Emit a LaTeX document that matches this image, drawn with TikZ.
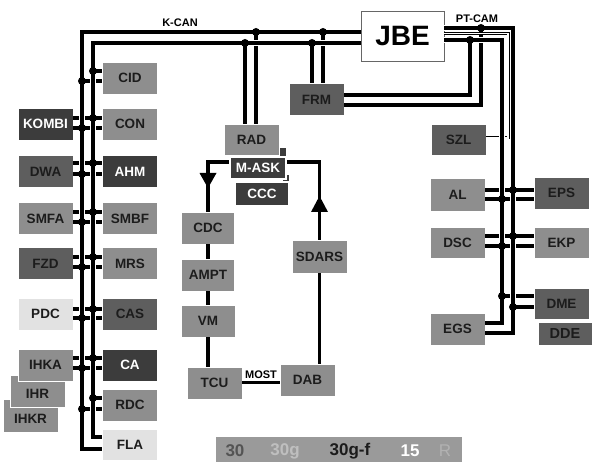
\documentclass[tikz,border=0pt]{standalone}
\usepackage{fontspec}
\setmainfont{Liberation Sans}
\definecolor{gmed}{HTML}{8E8E8E}
\definecolor{gdark}{HTML}{5E5E5E}
\definecolor{gvdark}{HTML}{3C3C3C}
\definecolor{glight}{HTML}{E2E2E2}
\definecolor{txt}{HTML}{1C1C1C}
\definecolor{gleg}{HTML}{9A9A9A}
\begin{document}
\begin{tikzpicture}[x=1pt,y=-1pt,
  mod/.style={rectangle, draw=white, line width=0.8pt, minimum width=55pt, minimum height=32pt, inner sep=0pt, font=\fontsize{13.5}{14}\selectfont\bfseries, text=txt},
  med/.style={mod, fill=gmed},
  drk/.style={mod, fill=gdark},
  vdk/.style={mod, fill=gvdark, text=white},
  lgt/.style={mod, fill=glight},
  card/.style={rectangle, draw=white, line width=0.8pt, inner sep=0pt},
  bus/.style={line width=3.8pt, black, preaction={draw=white, line width=6.5pt}},
  drop/.style={line width=3.8pt, black},
  conn/.style={line width=3.2pt, black},
  mline/.style={line width=3.6pt, black},
  thin/.style={line width=0.8pt, black, double=white, double distance=1.4pt},
  lbl/.style={font=\fontsize{11}{12}\selectfont\bfseries, inner sep=1pt, text=black},
  lg/.style={font=\fontsize{17}{18}\selectfont\bfseries, inner sep=0pt},
]
\useasboundingbox (0,0) rectangle (592,462);

% ---------- nodes ----------
\node[draw=black!60, fill=white, line width=0.8pt, minimum width=83pt, minimum height=50pt, inner sep=0pt, font=\fontsize{28}{30}\selectfont\bfseries] (jbe) at (402.5,36) {JBE};

\node[med] (cid) at (130,78) {CID};
\node[vdk] (kombi) at (45.5,124) {KOMBI};
\node[med] (con) at (130,124) {CON};
\node[drk] (dwa) at (45.5,171.5) {DWA};
\node[vdk] (ahm) at (130,171.5) {AHM};
\node[med] (smfa) at (45.5,218.5) {SMFA};
\node[med] (smbf) at (130,218.5) {SMBF};
\node[drk] (fzd) at (45.5,263.5) {FZD};
\node[med] (mrs) at (130,263.5) {MRS};
\node[lgt] (pdc) at (45.5,314) {PDC};
\node[drk] (cas) at (130,314) {CAS};
\node[med, minimum height=33pt] (ihkr) at (30.5,415.5) {};
\node[med] (ihr) at (37.5,391) {};
\node[med] (ihka) at (45.5,365) {IHKA};
\node at (37.5,394) [font=\fontsize{13.5}{14}\selectfont\bfseries, text=txt] (ihrt) {IHR};
\node at (30.5,419) [font=\fontsize{13.5}{14}\selectfont\bfseries, text=txt] (ihkrt) {IHKR};
\node[vdk] (ca) at (130,365) {CA};
\node[med] (rdc) at (130,405) {RDC};
\node[lgt, minimum height=31pt] (fla) at (130,444.5) {FLA};

\node[card, fill=gvdark, minimum width=8pt, minimum height=18pt] (maskcard) at (282.5,156) {};
\node[med, minimum height=31pt] (rad) at (251.5,139.5) {RAD};
\node[card, fill=gvdark, minimum width=7pt, minimum height=20pt] (ccccard) at (285.5,184) {};
\node[vdk, minimum width=56pt, minimum height=22pt, line width=1.2pt] (mask) at (258,168) {M-ASK};
\node[vdk, minimum width=54pt, minimum height=24pt, line width=1.2pt] (ccc) at (262,194) {CCC};

\node[drk] (frm) at (316.5,99.5) {FRM};
\node[drk, minimum height=31pt] (szl) at (458.5,139.5) {SZL};
\node[med, minimum height=33pt] (al) at (457.5,194.5) {AL};
\node[drk] (eps) at (561.5,193) {EPS};
\node[med, minimum height=31pt] (dsc) at (457.5,242.5) {DSC};
\node[med, minimum height=31pt] (ekp) at (561.5,242.5) {EKP};
\node[drk, minimum height=31pt] (dme) at (561.5,303.5) {DME};
\node[drk, minimum width=54pt, minimum height=23pt, font=\fontsize{14.5}{15}\selectfont\bfseries] (dde) at (565,333.5) {DDE};
\node[med] (egs) at (457.5,329) {EGS};

\node[med, minimum width=53pt] (cdc) at (208,228) {CDC};
\node[med, minimum width=53pt] (ampt) at (208,275) {AMPT};
\node[med, minimum width=54pt] (vm) at (208,321) {VM};
\node[med] (tcu) at (214.5,383) {TCU};
\node[med] (dab) at (307.5,380) {DAB};
\node[med, minimum height=33pt] (sdars) at (319.5,256.5) {SDARS};

\node[lbl] (kcan) at (180,23) {K-CAN};
\node[lbl] (ptcam) at (477,19) {PT-CAM};
\node[lbl] (most) at (261,375) {MOST};

% ---------- legend ----------
\node[rectangle, fill=gleg, minimum width=246pt, minimum height=28pt, inner sep=0pt, anchor=north west] (legend) at (216,437) {};
\node[lg, text=black!67] (l30) at (235,451) {30};
\node[lg, text=black!25] (l30g) at (285,451) {30g};
\node[lg, text=txt] (l30gf) at (350,451) {30g-f};
\node[lg, text=white] (l15) at (410,451) {15};
\node[lg, text=black!30, font=\fontsize{17}{18}\selectfont\mdseries] (lr) at (445,451) {R};

% ---------- drops and connections (under the buses) ----------
\draw[drop] (245,43) -- (rad.north -| 245,43);
\draw[drop] (256,32) -- (rad.north -| 256,32);
\draw[drop] (312,43) -- (frm.north -| 312,43);
\draw[drop] (323,32) -- (frm.north -| 323,32);
\draw[drop] (frm.east |- 0,95) -| (470,40);
\draw[drop] (frm.east |- 0,105) -| (481,28);
\draw[thin] (jbe.east |- 0,33.5) -| (508,138) -- (szl.east |- 0,138);

\draw[conn] (93,71) -- (cid.west |- 0,71);
\draw[conn] (82,81) -- (cid.west |- 0,81);
\draw[conn] (kombi.east |- 0,118) -- (con.west |- 0,118);
\draw[conn] (kombi.east |- 0,128) -- (con.west |- 0,128);
\draw[conn] (dwa.east |- 0,163) -- (ahm.west |- 0,163);
\draw[conn] (dwa.east |- 0,174) -- (ahm.west |- 0,174);
\draw[conn] (smfa.east |- 0,212) -- (smbf.west |- 0,212);
\draw[conn] (smfa.east |- 0,222) -- (smbf.west |- 0,222);
\draw[conn] (fzd.east |- 0,257) -- (mrs.west |- 0,257);
\draw[conn] (fzd.east |- 0,267) -- (mrs.west |- 0,267);
\draw[conn] (pdc.east |- 0,309) -- (cas.west |- 0,309);
\draw[conn] (pdc.east |- 0,318) -- (cas.west |- 0,318);
\draw[conn] (ihka.east |- 0,358) -- (ca.west |- 0,358);
\draw[conn] (ihka.east |- 0,368) -- (ca.west |- 0,368);
\draw[conn] (93,398) -- (rdc.west |- 0,398);
\draw[conn] (82,409) -- (rdc.west |- 0,409);

\draw[conn] (al.east |- 0,190) -- (eps.west |- 0,190);
\draw[conn] (al.east |- 0,199) -- (eps.west |- 0,199);
\draw[conn] (dsc.east |- 0,236) -- (ekp.west |- 0,236);
\draw[conn] (dsc.east |- 0,246) -- (ekp.west |- 0,246);
\draw[conn] (502,296) -- (dme.west |- 0,296);
\draw[conn] (513,307) -- (dme.west |- 0,307);

% ---------- buses ----------
\draw[bus] (jbe.west |- 0,32) -| (82,449) -- (fla.west |- 0,449);
\draw[bus] (jbe.west |- 0,43) -| (93,437) -- (fla.west |- 0,437);
\draw[bus] (jbe.east |- 0,28) -| (513,333) -- (egs.east |- 0,333);
\draw[bus] (jbe.east |- 0,40) -| (502,323) -- (egs.east |- 0,323);

% ---------- junctions ----------
\foreach \p in {(256,32),(245,43),(323,32),(312,43),
  (93,71),(82,81),(93,118),(82,128),(93,163),(82,174),(93,212),(82,222),
  (93,257),(82,267),(93,309),(82,318),(93,358),(82,368),(93,398),(82,409),
  (470,40),(481,28),(513,190),(502,199),(513,236),(502,246),(502,296),(513,307)}
  \fill \p circle (4pt);

% ---------- MOST ring ----------
\draw[mline] (cdc.north) |- (sdars.north |- 0,162) -- (sdars.north);
\draw[mline] (cdc.south) -- (ampt.north);
\draw[mline] (ampt.south) -- (vm.north);
\draw[mline] (vm.south) -- (vm.south |- tcu.north);
\draw[mline] (sdars.south) -- (sdars.south |- dab.north);
\draw[conn, line width=3pt] (tcu.east) -- (tcu.east -| dab.west);
\fill (199.5,173) -- (216.5,173) -- (208,188) -- cycle;
\fill (311,212) -- (328,212) -- (319.5,196) -- cycle;

% redraw boxes crossed by the ring
\node[vdk, minimum width=56pt, minimum height=22pt, line width=1.2pt] (mask2) at (258,168) {M-ASK};
\end{tikzpicture}
\end{document}
